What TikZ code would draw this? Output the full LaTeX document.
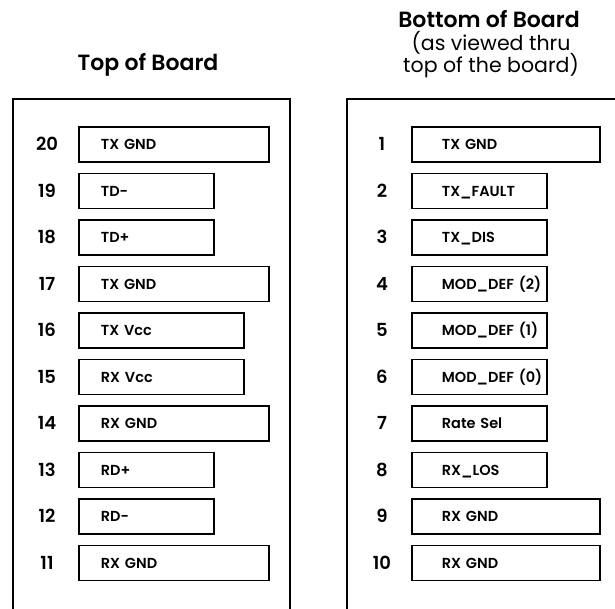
\documentclass[tikz,border=0pt]{standalone}
\usepackage{fontspec}
\setmainfont{Poppins}[BoldFont={Poppins SemiBold}]

\def\lwidth{1.8}
\def\rowh{35pt}
\def\lnum{47}
\def\rnum{382}
\def\lbox{78}
\def\rbox{411}

\begin{document}
\begin{tikzpicture}[x=1pt,y=-1pt,
	pinrec/.style={rectangle,draw,line width=\lwidth pt,minimum height=\rowh,anchor=west,align=left,inner ysep=0pt,text height=10.5pt,text depth=0pt,font=\bfseries\fontsize{14.5}{17}\selectfont},
	leftrec/.style={pinrec,inner xsep=22pt},rightrec/.style={pinrec,inner xsep=30pt},
	lng/.style={leftrec,text width=146pt},mid/.style={leftrec,text width=121pt},shrt/.style={leftrec,text width=91pt},
	rlng/.style={rightrec,text width=128pt},rshrt/.style={rightrec,text width=75pt},
	pinnum/.style={inner sep=0pt,text height=12.5pt,text depth=0pt,font=\bfseries\fontsize{18}{21}\selectfont},
	headline/.style={anchor=base,inner sep=0pt,font=\bfseries\fontsize{22}{25}\selectfont},
	subline/.style={anchor=base,inner sep=0pt,font=\fontsize{20.5}{24}\selectfont}]
	\useasboundingbox (0,0) rectangle (615,608);
	% boards
	\draw[line width=\lwidth pt] (13,610) -- (13,99) -- (290,99) -- (290,610);
	\draw[line width=\lwidth pt] (347,610) -- (347,99) -- (617,99);
	% headings
	\node[headline] (top) at (148,70) {Top of Board};
	\node[headline] (bot) at (489,27) {Bottom of Board};
	\node[subline] (sub1) at (491,50) {(as viewed thru};
	\node[subline] (sub2) at (491,72) {top of the board)};
	% top of board
	\node[pinnum] (n20) at (\lnum,144.5) {20};
	\node[lng] (p20) at (\lbox,144.5) {TX GND};
	\node[pinnum] (n19) at (\lnum,191) {19};
	\node[shrt] (p19) at (\lbox,191) {TD-};
	\node[pinnum] (n18) at (\lnum,237.5) {18};
	\node[shrt] (p18) at (\lbox,237.5) {TD+};
	\node[pinnum] (n17) at (\lnum,284) {17};
	\node[lng] (p17) at (\lbox,284) {TX GND};
	\node[pinnum] (n16) at (\lnum,330.5) {16};
	\node[mid] (p16) at (\lbox,330.5) {TX Vcc};
	\node[pinnum] (n15) at (\lnum,377) {15};
	\node[mid] (p15) at (\lbox,377) {RX Vcc};
	\node[pinnum] (n14) at (\lnum,423.5) {14};
	\node[lng] (p14) at (\lbox,423.5) {RX GND};
	\node[pinnum] (n13) at (\lnum,470) {13};
	\node[shrt] (p13) at (\lbox,470) {RD+};
	\node[pinnum] (n12) at (\lnum,516.5) {12};
	\node[shrt] (p12) at (\lbox,516.5) {RD-};
	\node[pinnum] (n11) at (\lnum,563) {11};
	\node[lng] (p11) at (\lbox,563) {RX GND};
	% bottom of board
	\node[pinnum] (n1) at (\rnum,144.5) {1};
	\node[rlng] (p1) at (\rbox,144.5) {TX GND};
	\node[pinnum] (n2) at (\rnum,191) {2};
	\node[rshrt] (p2) at (\rbox,191) {TX\_FAULT};
	\node[pinnum] (n3) at (\rnum,237.5) {3};
	\node[rshrt] (p3) at (\rbox,237.5) {TX\_DIS};
	\node[pinnum] (n4) at (\rnum,284) {4};
	\node[rshrt] (p4) at (\rbox,284) {MOD\_DEF~(2)};
	\node[pinnum] (n5) at (\rnum,330.5) {5};
	\node[rshrt] (p5) at (\rbox,330.5) {MOD\_DEF~(1)};
	\node[pinnum] (n6) at (\rnum,377) {6};
	\node[rshrt] (p6) at (\rbox,377) {MOD\_DEF~(0)};
	\node[pinnum] (n7) at (\rnum,423.5) {7};
	\node[rshrt] (p7) at (\rbox,423.5) {Rate Sel};
	\node[pinnum] (n8) at (\rnum,470) {8};
	\node[rshrt] (p8) at (\rbox,470) {RX\_LOS};
	\node[pinnum] (n9) at (\rnum,516.5) {9};
	\node[rlng] (p9) at (\rbox,516.5) {RX GND};
	\node[pinnum] (n10) at (\rnum,563) {10};
	\node[rlng] (p10) at (\rbox,563) {RX GND};
\end{tikzpicture}
\end{document}
